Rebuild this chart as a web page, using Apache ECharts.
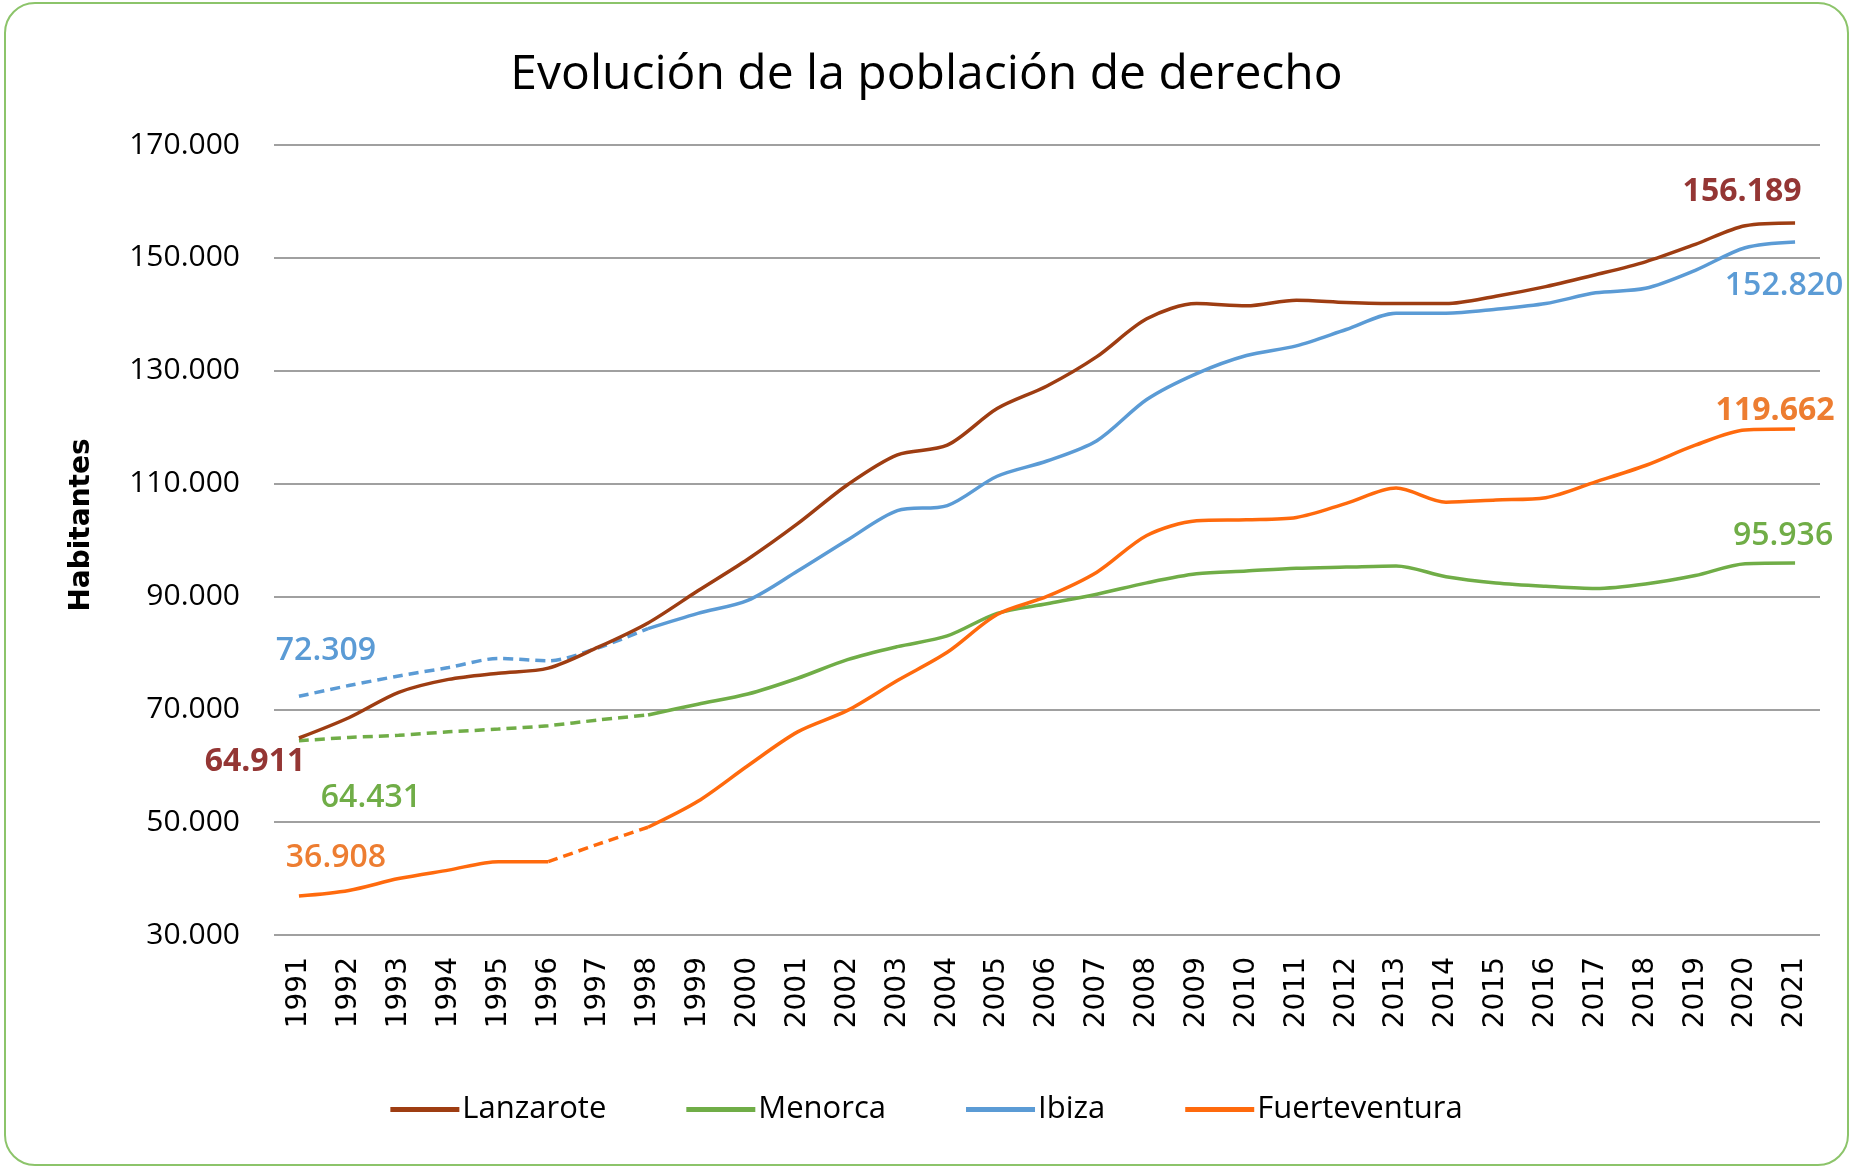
<!DOCTYPE html>
<html>
<head>
<meta charset="utf-8">
<title>Evolución de la población de derecho</title>
<script src="https://cdn.jsdelivr.net/npm/echarts@6/dist/echarts.min.js"></script>
<style>
  html, body { margin: 0; padding: 0; background: #fff; }
  #main { width: 1853px; height: 1168px; }
</style>
</head>
<body>
<div id="main"></div>
<script>
// years on the x axis
const years = [];
for (let y = 1991; y <= 2021; y++) years.push(String(y));

const lanzarote = [64911, 68500, 73000, 75300, 76400, 77300, 81000, 85300, 91000, 96600,
  102900, 109800, 115100, 116800, 123300, 127300, 132500, 139200, 141900, 141500,
  142500, 142100, 141900, 141900, 143200, 144900, 147000, 149300, 152400, 155700, 156189];
const menorca = [64431, 65000, 65400, 66000, 66500, 67100, 68100, 69000, 70900, 72700,
  75500, 78800, 81100, 83000, 87000, 88700, 90400, 92400, 94000, 94500,
  95000, 95200, 95400, 93500, 92400, 91800, 91400, 92200, 93700, 95800, 95936];
const ibiza = [72309, 74200, 75900, 77400, 79000, 78600, 80900, 84300, 87000, 89300,
  94500, 100000, 105200, 106100, 111300, 114000, 117600, 124900, 129500, 132700,
  134400, 137300, 140200, 140200, 140900, 141900, 143800, 144600, 147800, 151800, 152820];
const fuerteventura = [36908, 37900, 40000, 41500, 43000, 43000, 46100, 49100, 53700, 60000,
  66000, 69800, 75100, 80100, 86800, 90000, 94300, 100800, 103400, 103600,
  104000, 106500, 109200, 106700, 107100, 107500, 110300, 113200, 116800, 119500, 119662];

// [from, to] index ranges drawn dashed (estimated years)
const dashedRanges = {
  Lanzarote: null,
  Menorca: [0, 7],
  Ibiza: [0, 7],
  Fuerteventura: [5, 7]
};

const fmt = v => v.toLocaleString('de-DE');

const islands = [
  { name: 'Lanzarote', data: lanzarote, color: '#9E3D12', labelColor: '#943634',
    first: { offset: [-44, 24], weight: 'bold' }, last: { offset: [-53, -31], weight: 'bold' } },
  { name: 'Menorca', data: menorca, color: '#70AD47', labelColor: '#70AD47',
    first: { offset: [72, 57], weight: 600 }, last: { offset: [-12, -27], weight: 600 } },
  { name: 'Ibiza', data: ibiza, color: '#5B9BD5', labelColor: '#5B9BD5',
    first: { offset: [27, -45], weight: 600 }, last: { offset: [-11, 44], weight: 600 } },
  { name: 'Fuerteventura', data: fuerteventura, color: '#FF6A0D', labelColor: '#ED7D31',
    first: { offset: [37, -38], weight: 600 }, last: { offset: [-20, -18], weight: 'bold' } }
];

function labelItem(v, cfg, color) {
  return {
    value: v,
    label: {
      show: true,
      position: 'inside',
      offset: cfg.offset,
      formatter: fmt(v),
      color: color,
      fontSize: 32,
      fontWeight: cfg.weight,
      fontFamily: 'Open Sans'
    }
  };
}

const series = [];
islands.forEach(isl => {
  const n = isl.data.length;
  const dr = dashedRanges[isl.name];
  const solid = isl.data.map((v, i) => {
    const inSolid = !dr || i >= dr[1] || (dr[0] > 0 && i <= dr[0]);
    if (!inSolid) return '-';
    if (i === 0) return labelItem(v, isl.first, isl.labelColor);
    if (i === n - 1) return labelItem(v, isl.last, isl.labelColor);
    return v;
  });
  series.push({
    name: isl.name,
    type: 'line',
    smooth: 0.3,
    symbol: 'circle',
    symbolSize: 0,
    showAllSymbol: true,
    lineStyle: { color: isl.color, width: 3.5 },
    itemStyle: { color: isl.color },
    data: solid,
    z: 3
  });
  if (dr) {
    const dashed = isl.data.map((v, i) => {
      if (i < dr[0] || i > dr[1]) return '-';
      if (i === 0) return labelItem(v, isl.first, isl.labelColor);
      return v;
    });
    series.push({
      name: isl.name + ' (est.)',
      type: 'line',
      smooth: 0.3,
      symbol: 'circle',
      symbolSize: 0,
      showAllSymbol: true,
      lineStyle: { color: isl.color, width: 3.5, type: [10, 6] },
      itemStyle: { color: isl.color },
      data: dashed,
      z: 2
    });
  }
});

const myChart = echarts.init(document.getElementById('main'));
const option = {
  animation: false,
  backgroundColor: '#fff',
  title: {
    text: 'Evolución de la población de derecho',
    left: 'center',
    top: 46,
    textStyle: { fontFamily: 'Open Sans', fontWeight: 'normal', fontSize: 48, color: '#000' }
  },
  graphic: [{
    type: 'rect',
    shape: { x: 5, y: 3, width: 1843, height: 1162, r: 30 },
    style: { fill: 'none', stroke: '#8CC46A', lineWidth: 2 },
    silent: true
  }],
  legend: {
    data: islands.map(i => i.name),
    bottom: 38,
    left: 'center',
    icon: 'rect',
    itemWidth: 69,
    itemHeight: 5,
    itemGap: 80,
    textStyle: { fontFamily: 'Open Sans', fontSize: 31, color: '#000', padding: [0, 0, 0, -2] }
  },
  grid: { left: 274, right: 33, top: 145, bottom: 233, containLabel: false },
  xAxis: {
    type: 'category',
    boundaryGap: true,
    data: years,
    axisLine: { show: false },
    axisTick: { show: false },
    axisLabel: {
      rotate: 90,
      margin: 22,
      fontFamily: 'DejaVu Sans',
      fontSize: 28,
      color: '#000',
      interval: 0
    }
  },
  yAxis: {
    type: 'value',
    min: 30000,
    max: 170000,
    interval: 20000,
    name: 'Habitantes',
    nameLocation: 'middle',
    nameGap: 178,
    nameRotate: 90,
    nameTextStyle: {
      fontFamily: 'DejaVu Sans', fontWeight: 'bold', fontSize: 28, color: '#000',
      padding: [0, 0, 0, 30]
    },
    axisLine: { show: false },
    axisTick: { show: false },
    splitLine: { lineStyle: { color: '#A0A0A0', width: 2 } },
    axisLabel: {
      margin: 34,
      fontFamily: 'Open Sans',
      fontSize: 30,
      color: '#000',
      formatter: v => fmt(v)
    }
  },
  series: series
};
myChart.setOption(option);
window.onresize = myChart.resize;
</script>
</body>
</html>
